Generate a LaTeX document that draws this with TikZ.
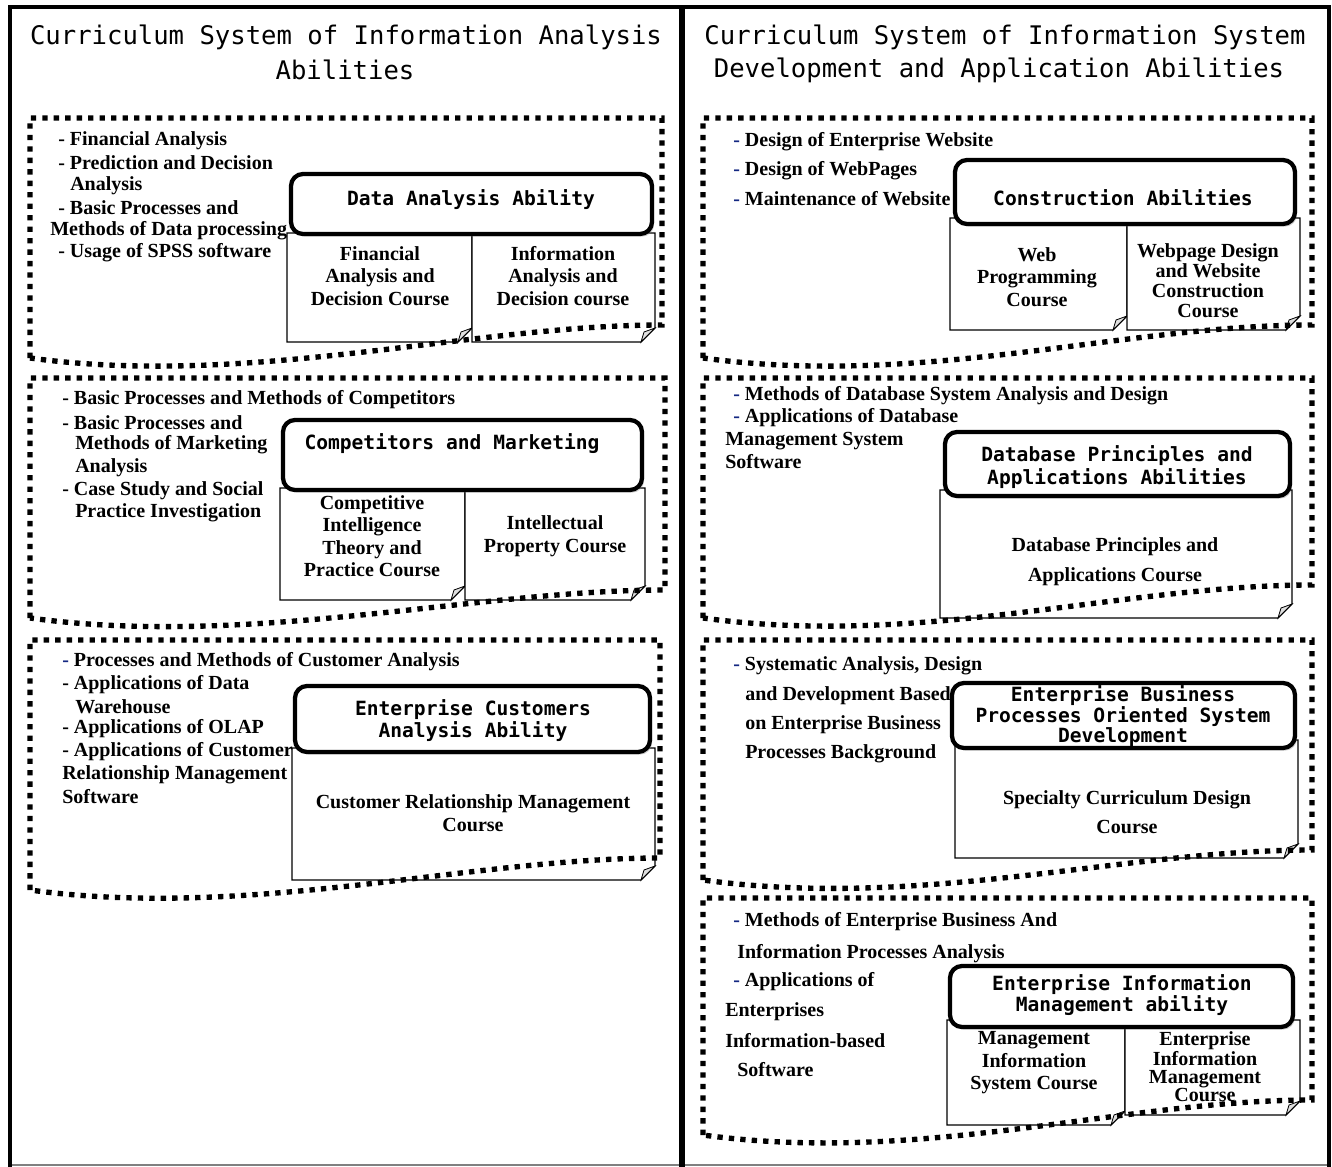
\documentclass[tikz,border=0pt]{standalone}
\usepackage{fontspec}
\setmainfont{Liberation Serif}
\newfontfamily\monof{DejaVu Sans Mono}
\usetikzlibrary{shadows}
\definecolor{dashblue}{RGB}{20,40,130}
\newcommand\bd{\textcolor{dashblue}{-}}
\newcommand\crsshape[4]{%
  \path[crsbox] (#1,#2) -- (#3,#2) -- (#3,#4-14) -- (#3-14,#4) -- (#1,#4) -- cycle;
  \path[fold] (#3,#4-14) -- (#3-11,#4-10) -- (#3-14,#4) -- cycle;}
\newcommand\docshape[5]{%
  \draw[dotbox] (#1,#4) -- (#1,#2) -- (#3,#2) -- (#3,#5) .. controls (#3-190,#5) and (#1+220,#4+30) .. (#1,#4);}
\begin{document}
\begin{tikzpicture}[x=0.75pt,y=-0.75pt,
 bul/.style={font=\fontsize{15}{17}\selectfont\bfseries,anchor=west,inner sep=0pt},
 ttl/.style={font=\monof\fontsize{19.2}{25}\selectfont,inner sep=0pt},
 hdrbox/.style={draw=black,line width=3.2pt,rounded corners=9pt,fill=white,drop shadow={shadow xshift=1.5pt,shadow yshift=-2pt,opacity=0.35}},
 hdrtxt/.style={font=\monof\bfseries\fontsize{14.7}{17}\selectfont,align=center,inner sep=0pt},
 crstxt/.style={font=\fontsize{15}{16.9}\selectfont\bfseries,align=center,inner sep=0pt},
 dotbox/.style={draw=black,line width=4pt,dash pattern=on 4pt off 4.6pt},
 crsbox/.style={draw=black,line width=0.8pt,fill=white},
 fold/.style={draw=black,line width=0.6pt,fill=gray!25},
 frame/.style={draw=black,line width=3pt}
]
\useasboundingbox (0,0) rectangle (1332,1167);
\fill[white] (0,0) rectangle (1332,1167);
% frame
\draw[gray,line width=0.8pt] (10,1165) -- (1329,1165);
\draw[frame] (10,1167) -- (10,7) -- (1329,7) -- (1329,1167);
\draw[black,line width=4pt] (682,7) -- (682,1167);
% titles
\node[ttl] (t1a) at (346,37) {Curriculum System of Information Analysis};
\node[ttl] (t1b) at (345,70) {Abilities};
\node[ttl] (t2a) at (1005,37) {Curriculum System of Information System};
\node[ttl] (t2b) at (999,70) {Development and Application Abilities};

% ---------- L1
\crsshape{287}{233}{472}{342}
\crsshape{472}{233}{655}{342}
\node[crstxt] (c1a) at (380,276) {Financial\\Analysis and\\Decision Course};
\node[crstxt] (c1b) at (563,276) {Information\\Analysis and\\Decision course};
\path[hdrbox] (291,174) rectangle (652,234);
\node[hdrtxt] (h1) at (471,200) {Data Analysis Ability};
\docshape{30}{118}{662}{358}{325}
\node[bul] (b1a) at (58,141) {- Financial Analysis};
\node[bul] (b1b) at (58,163) {- Prediction and Decision};
\node[bul] (b1c) at (70,186) {Analysis};
\node[bul] (b1d) at (58,208) {- Basic Processes and};
\node[bul] (b1e) at (50,231) {Methods of Data processing};
\node[bul] (b1f) at (58,253) {- Usage of SPSS software};

% ---------- L2
\crsshape{280}{488}{465}{600}
\crsshape{465}{488}{645}{600}
\node[crstxt] (c2a) at (372,536) {Competitive\\Intelligence\\Theory and\\Practice Course};
\node[crstxt] (c2b) at (555,536) {Intellectual\\Property Course};
\path[hdrbox] (283,420) rectangle (642,490);
\node[hdrtxt] (h2) at (452,444) {Competitors and Marketing};
\docshape{30}{378}{665}{618}{590}
\node[bul] (b2a) at (62,400) {- Basic Processes and Methods of Competitors};
\node[bul] (b2b) at (62,423) {- Basic Processes and};
\node[bul] (b2c) at (75,445) {Methods of Marketing};
\node[bul] (b2d) at (75,468) {Analysis};
\node[bul] (b2e) at (62,491) {- Case Study and Social};
\node[bul] (b2f) at (75,513) {Practice Investigation};

% ---------- L3
\crsshape{292}{748}{655}{880}
\node[crstxt,font=\fontsize{15}{17.25}\selectfont\bfseries] (c3a) at (473,813) {Customer Relationship Management\\Course};
\path[hdrbox] (295,686) rectangle (650,752);
\node[hdrtxt,font=\monof\bfseries\fontsize{14.7}{16.5}\selectfont] (h3) at (473,721) {Enterprise Customers\\Analysis Ability};
\docshape{30}{640}{660}{890}{858}
\node[bul] (b3a) at (62,662) {\bd{} Processes and Methods of Customer Analysis};
\node[bul] (b3b) at (62,685) {- Applications of Data};
\node[bul] (b3c) at (75,707) {Warehouse};
\node[bul] (b3d) at (62,729) {- Applications of OLAP};
\node[bul] (b3e) at (62,752) {- Applications of Customer};
\node[bul] (b3f) at (62,775) {Relationship Management};
\node[bul] (b3g) at (62,797) {Software};

% ---------- R1
\crsshape{950}{218}{1127}{330}
\crsshape{1127}{218}{1300}{330}
\node[crstxt] (c4a) at (1037,277) {Web\\Programming\\Course};
\node[crstxt,font=\fontsize{15}{15}\selectfont\bfseries] (c4b) at (1208,281) {Webpage Design\\and Website\\Construction\\Course};
\path[hdrbox] (955,160) rectangle (1295,224);
\node[hdrtxt] (h4) at (1123,198) {Construction Abilities};
\docshape{703}{118}{1312}{358}{325}
\node[bul] (b4a) at (733,142) {\bd{} Design of Enterprise Website};
\node[bul] (b4b) at (733,171) {\bd{} Design of WebPages};
\node[bul] (b4c) at (733,199) {\bd{} Maintenance of Website};

% ---------- R2
\crsshape{940}{490}{1292}{618}
\node[crstxt,font=\fontsize{15}{22.5}\selectfont\bfseries] (c5a) at (1115,562) {Database Principles and\\Applications Course};
\path[hdrbox] (945,432) rectangle (1290,496);
\node[hdrtxt,font=\monof\bfseries\fontsize{14.7}{17.25}\selectfont] (h5) at (1117,467) {Database Principles and\\Applications Abilities};
\docshape{703}{378}{1312}{618}{585}
\node[bul] (b5a) at (733,396) {\bd{} Methods of Database System Analysis and Design};
\node[bul] (b5b) at (733,418) {\bd{} Applications of Database};
\node[bul] (b5c) at (725,441) {Management System};
\node[bul] (b5d) at (725,462) {Software};

% ---------- R3
\crsshape{955}{740}{1298}{858}
\node[crstxt,font=\fontsize{15}{21.75}\selectfont\bfseries] (c6a) at (1127,812) {Specialty Curriculum Design\\Course};
\path[hdrbox] (952,683) rectangle (1295,748);
\node[hdrtxt,font=\monof\bfseries\fontsize{14.7}{11.25}\selectfont] (h6) at (1123,716) {Enterprise Business\\Processes Oriented System\\Development};
\docshape{703}{640}{1312}{880}{850}
\node[bul] (b6a) at (733,666) {\bd{} Systematic Analysis, Design};
\node[bul] (b6b) at (745,696) {and Development Based};
\node[bul] (b6c) at (745,725) {on Enterprise Business};
\node[bul] (b6d) at (745,754) {Processes Background};

% ---------- R4
\crsshape{947}{1020}{1125}{1125}
\crsshape{1125}{1020}{1300}{1115}
\node[crstxt] (c7a) at (1034,1063) {Management\\Information\\System Course};
\node[crstxt,font=\fontsize{15}{13.5}\selectfont\bfseries] (c7b) at (1205,1067) {Enterprise\\Information\\Management\\Course};
\path[hdrbox] (950,966) rectangle (1293,1027);
\node[hdrtxt,font=\monof\bfseries\fontsize{14.7}{14.25}\selectfont] (h7) at (1122,995) {Enterprise Information\\Management ability};
\docshape{703}{898}{1312}{1135}{1100}
\node[bul] (b7a) at (733,922) {\bd{} Methods of Enterprise Business And};
\node[bul] (b7b) at (737,954) {Information Processes Analysis};
\node[bul] (b7c) at (733,982) {\bd{} Applications of};
\node[bul] (b7d) at (725,1012) {Enterprises};
\node[bul] (b7e) at (725,1041) {Information-based};
\node[bul] (b7f) at (737,1070) {Software};
\end{tikzpicture}
\end{document}
